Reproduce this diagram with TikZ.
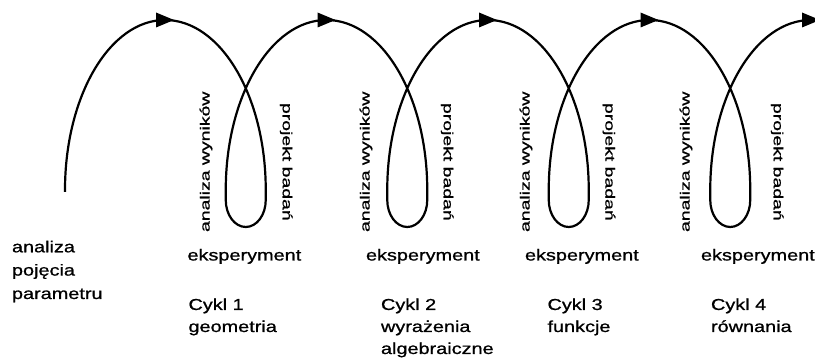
\documentclass[tikz,border=0pt]{standalone}
\usepackage{fontspec}
\usepackage{graphicx}
\setmainfont{Liberation Sans}[FakeBold=0.8]
\newcommand\hx[1]{\scalebox{1.25}[1]{#1}}
\newcommand\vx[1]{\scalebox{1.45}[1]{#1}}
\tikzset{
  curve/.style={line width=2.2pt, black, line join=round},
  arrowhead/.style={fill=black},
  lbl/.style={anchor=base west, inner sep=0pt, outer sep=0pt, font=\fontsize{15.9}{19}\selectfont},
  vlbl/.style={anchor=base west, inner sep=0pt, outer sep=0pt, font=\fontsize{13.4}{16}\selectfont}
}
\begin{document}
\begin{tikzpicture}[x=1pt,y=1pt]
\useasboundingbox (0,0) rectangle (815,358);
\clip (0,0) rectangle (815,358);
\fill[white] (0,0) rectangle (815,358);
% spiral curve
\coordinate (s) at (65,166);
\draw[curve] (s) -- ++(0,2)
  arc[start angle=180, end angle=90, x radius=100, y radius=170]
  \foreach \k in {1,...,4}{
    arc[start angle=90, end angle=0, x radius=100.75, y radius=170]
    -- ++(0,-10)
    arc[start angle=0, end angle=-180, x radius=20, y radius=27]
    -- ++(0,10)
    arc[start angle=180, end angle=90, x radius=100.75, y radius=170]
  };
% arrowheads at the tops
\foreach \t in {165,326.5,488,649.5,811}{
  \fill[arrowhead] (\t-9,345.5) -- (\t+9,338) -- (\t-9,330.5) -- cycle;
}
% left label
\node[lbl] (ap1) at (12,105.7) {\hx{analiza}};
\node[lbl] (ap2) at (12,82.4) {\hx{pojęcia}};
\node[lbl] (ap3) at (12,59) {\hx{parametru}};
% eksperyment
\node[lbl] (ek1) at (187.5,97.5) {\hx{eksperyment}};
\node[lbl] (ek2) at (366,97.5) {\hx{eksperyment}};
\node[lbl] (ek3) at (525,97.5) {\hx{eksperyment}};
\node[lbl] (ek4) at (701,97.5) {\hx{eksperyment}};
% cycles
\node[lbl] (c1) at (188.5,48) {\hx{Cykl 1}};
\node[lbl] (g1) at (188.5,26) {\hx{geometria}};
\node[lbl] (c2) at (381,48) {\hx{Cykl 2}};
\node[lbl] (w2) at (381,26) {\hx{wyrażenia}};
\node[lbl] (a2) at (381,4) {\hx{algebraiczne}};
\node[lbl] (c3) at (547.5,48) {\hx{Cykl 3}};
\node[lbl] (f3) at (547.5,26) {\hx{funkcje}};
\node[lbl] (c4) at (711,48) {\hx{Cykl 4}};
\node[lbl] (r4) at (711,26) {\hx{równania}};
% vertical labels
\node[vlbl, rotate=90] (aw1) at (209.6,126) {\vx{analiza wyników}};
\node[vlbl, rotate=90] (aw2) at (369.6,126) {\vx{analiza wyników}};
\node[vlbl, rotate=90] (aw3) at (529.6,126) {\vx{analiza wyników}};
\node[vlbl, rotate=90] (aw4) at (689.6,126) {\vx{analiza wyników}};
\node[vlbl, rotate=-90] (pb1) at (282.7,255) {\vx{projekt badań}};
\node[vlbl, rotate=-90] (pb2) at (443.7,255) {\vx{projekt badań}};
\node[vlbl, rotate=-90] (pb3) at (605.4,255) {\vx{projekt badań}};
\node[vlbl, rotate=-90] (pb4) at (773.7,255) {\vx{projekt badań}};
\end{tikzpicture}
\end{document}
